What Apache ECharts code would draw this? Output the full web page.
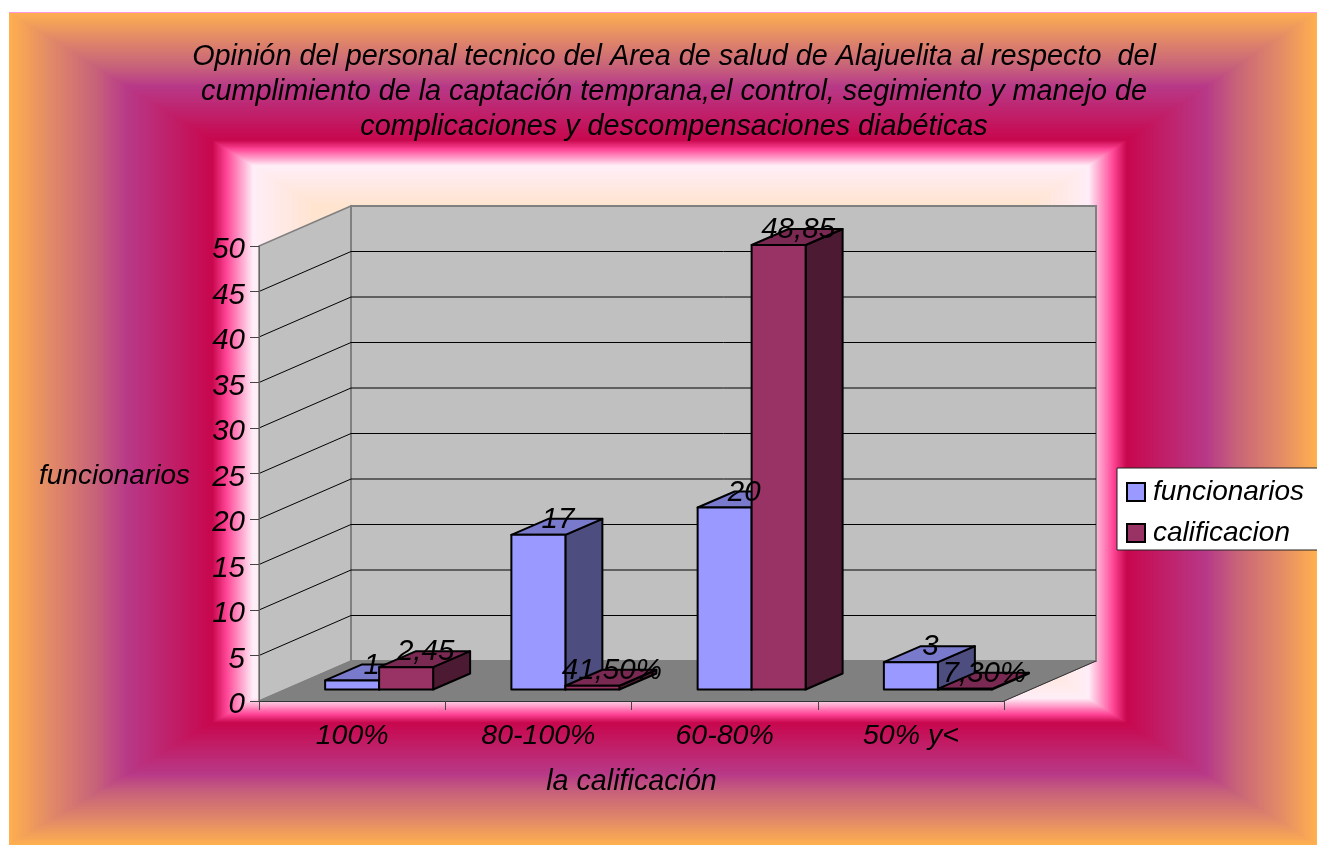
<!DOCTYPE html>
<html><head><meta charset="utf-8">
<style>html,body{margin:0;padding:0;background:#fff;overflow:hidden}#c{width:1317px;height:845px}</style>
<script src="https://cdn.jsdelivr.net/npm/echarts@6/dist/echarts.min.js"></script>
</head><body><div id="c"></div>
<script>
const categories = ['100%', '80-100%', '60-80%', '50% y<'];
const funcionarios = [1, 17, 20, 3];
const calificacion = [2.45, 0.415, 48.85, 0.073];
const funcionariosLabels = ['1', '17', '20', '3'];
const calificacionLabels = ['2,45', '41,50%', '48,85', '7,30%'];
const yTicks = [0, 5, 10, 15, 20, 25, 30, 35, 40, 45, 50];
const titleLines = [
  'Opinión del personal tecnico del Area de salud de Alajuelita al respecto  del',
  'cumplimiento de la captación temprana,el control, segimiento y manejo de',
  'complicaciones y descompensaciones diabéticas'
];
const FONT = '"Liberation Sans", Arial, sans-serif';
const DEPTH = [92, -40];      // projection of the full floor depth
const BAR_SHIFT = [27, -11.5];  // gap in front of bars
const BAR_DEPTH = [37, -16];  // depth of a bar
const BAR_FRAC = 54 / 186.25;

/* rectangular path gradient of the chart area */
function lerp(a, b, t) { return a + (b - a) * t; }
const stops = [[0, [255,176,80]], [0.2,[226,138,104]], [0.42,[200,100,122]], [0.58, [184,58,136]], [1, [200,8,78]], [1.07, [255,70,150]], [1.2, [255,238,248]], [1.5, [255,228,208]], [3, [255,228,208]]];
function colorAt(t) {
  for (let i = 1; i < stops.length; i++) {
    if (t <= stops[i][0]) {
      const a = stops[i-1], b = stops[i], k = (t - a[0]) / (b[0] - a[0]);
      return 'rgb(' + a[1].map((v, j) => Math.round(lerp(v, b[1][j], k))).join(',') + ')';
    }
  }
  return 'rgb(255,228,208)';
}
function backgroundRects() {
  const out = [];
  const F = { l: 9, r: 1317, t: 12, b: 845 };
  const S = { l: 203, r: 190, t: 128, b: 122 };
  for (let t = 0; t < 2.2; t += 0.004) {
    const x0 = F.l + S.l * t, x1 = F.r - S.r * t, y0 = F.t + S.t * t, y1 = F.b - S.b * t;
    if (x1 <= x0 || y1 <= y0) break;
    out.push({ type: 'rect', silent: true, z: -5, shape: { x: x0, y: y0, width: x1 - x0, height: y1 - y0 }, style: { fill: colorAt(t) } });
  }
  out.push({ type: 'line', silent: true, z: -4, shape: { x1: 9, y1: 12.5, x2: 1317, y2: 12.5 }, style: { stroke: '#ff99dd', lineWidth: 1 } });
  return out;
}

function renderWalls(params, api) {
  const p0 = api.coord([0, 0]);
  const size = api.size([1, 0])[0];
  const p1 = [p0[0] - size / 2 + size * categories.length, p0[1]];
  const x0 = p0[0] - size / 2, x1 = p1[0], yb = p0[1];
  const yt = api.coord([0, 50])[1];
  const d = DEPTH;
  const poly = (pts, fill, stroke, lw) => ({ type: 'polygon', shape: { points: pts }, style: { fill, stroke, lineWidth: lw } });
  const children = [
    poly([[x0, yb], [x0 + d[0], yb + d[1]], [x0 + d[0], yt + d[1]], [x0, yt]], '#c0c0c0', '#808080', 1.5),
    poly([[x0 + d[0], yb + d[1]], [x1 + d[0], yb + d[1]], [x1 + d[0], yt + d[1]], [x0 + d[0], yt + d[1]]], '#c0c0c0', '#808080', 2),
    poly([[x0, yb], [x1, yb], [x1 + d[0], yb + d[1]], [x0 + d[0], yb + d[1]]], '#808080', '#808080', 1)
  ];
  yTicks.forEach(v => {
    if (v === 0 || v === 50) return;
    const y = api.coord([0, v])[1];
    children.push({ type: 'polyline', shape: { points: [[x0, y], [x0 + d[0], y + d[1]], [x1 + d[0], y + d[1]]] }, style: { fill: null, stroke: '#000', lineWidth: 1 } });
  });
  children.push({ type: 'line', shape: { x1: x1, y1: yb, x2: x1 + d[0], y2: yb + d[1] }, style: { stroke: '#333', lineWidth: 1 } });
  return { type: 'group', children };
}

function bar3d(colors, labels, seriesIndex) {
  return function (params, api) {
    const i = api.value(0), v = api.value(1);
    const band = api.size([1, 0])[0];
    const w = band * BAR_FRAC;
    const base = api.coord([i, 0]), top = api.coord([i, v]);
    const x0 = base[0] + BAR_SHIFT[0] - (seriesIndex === 0 ? w : 0);
    const x1 = x0 + w;
    const yb = base[1] + BAR_SHIFT[1], yt = top[1] + BAR_SHIFT[1];
    const dx = BAR_DEPTH[0], dy = BAR_DEPTH[1];
    const style = fill => ({ fill, stroke: '#000', lineWidth: 2, lineJoin: 'round' });
    const z2 = seriesIndex + 1;
    return { type: 'group', children: [
      { type: 'polygon', z2, shape: { points: [[x1, yb], [x1 + dx, yb + dy], [x1 + dx, yt + dy], [x1, yt]] }, style: style(colors[2]) },
      { type: 'polygon', z2, shape: { points: [[x0, yt], [x1, yt], [x1 + dx, yt + dy], [x0 + dx, yt + dy]] }, style: style(colors[1]) },
      { type: 'rect', z2, shape: { x: x0, y: yt, width: w, height: yb - yt }, style: style(colors[0]) },
      { type: 'text', z2: 20, x: (x0 + x1) / 2 + 19.5, y: yt - 15, style: { text: labels[i], fill: '#000', font: 'italic 29.5px ' + FONT, align: 'center', verticalAlign: 'middle' } }
    ] };
  };
}

const chart = echarts.init(document.getElementById('c'), null, { renderer: 'canvas' });
chart.setOption({
  animation: false,
  graphic: { elements: [{ type: 'group', silent: true, z: -5, children: backgroundRects() }] },
  title: {
    text: titleLines.join('\n'), left: 669, top: 34, textAlign: 'center',
    textStyle: { fontFamily: FONT, fontStyle: 'italic', fontWeight: 'normal', fontSize: 28.8, lineHeight: 35, color: '#000' }
  },
  legend: {
    orient: 'vertical', left: 1117, top: 468, data: ['funcionarios', 'calificacion'], icon: 'rect',
    backgroundColor: '#fff', borderColor: '#222', borderWidth: 1, padding: [10, 20, 3, 9],
    itemWidth: 18, itemHeight: 18, itemGap: 13, selectedMode: false,
    textStyle: { fontFamily: FONT, fontStyle: 'italic', fontSize: 28, color: '#000', padding: [0,0,0,3] }
  },
  grid: { left: 259, top: 246, width: 745, height: 455 },
  xAxis: {
    type: 'category', data: categories, z: 5,
    axisLine: { lineStyle: { color: '#333', width: 1 } },
    axisTick: { show: true, length: 9, lineStyle: { color: '#444' }, alignWithLabel: false },
    axisLabel: { interval: 0, margin: 21, fontFamily: FONT, fontStyle: 'italic', fontSize: 28.5, color: '#000' },
    name: 'la calificación', nameLocation: 'middle', nameGap: 67,
    nameTextStyle: { fontFamily: FONT, fontStyle: 'italic', fontSize: 28.7, color: '#000' }
  },
  yAxis: {
    type: 'value', min: 0, max: 50, interval: 5, z: 5,
    axisLine: { show: true, lineStyle: { color: '#666', width: 1 } },
    axisTick: { show: true, length: 9, lineStyle: { color: '#444' } },
    splitLine: { show: false },
    axisLabel: { margin: 14, fontFamily: FONT, fontStyle: 'italic', fontSize: 29.5, color: '#000', verticalAlign: 'top', lineHeight: 8 },
    name: 'funcionarios', nameLocation: 'middle', nameRotate: 0, nameGap: 69,
    nameTextStyle: { fontFamily: FONT, fontStyle: 'italic', fontSize: 28, color: '#000', verticalAlign: 'top', lineHeight: 5 }
  },
  series: [
    { type: 'custom', name: 'walls', z: 1, silent: true, renderItem: renderWalls, data: [[0, 0]], encode: { x: 0, y: 1 } },
    { type: 'custom', name: 'funcionarios', z: 2, itemStyle: { color: '#9999ff', borderColor: '#000', borderWidth: 1.5 },
      renderItem: bar3d(['#9999ff', '#7a7acc', '#4d4d80'], funcionariosLabels, 0),
      data: funcionarios.map((v, i) => [i, v]), encode: { x: 0, y: 1 } },
    { type: 'custom', name: 'calificacion', z: 2, itemStyle: { color: '#993366', borderColor: '#000', borderWidth: 1.5 },
      renderItem: bar3d(['#993366', '#7a2952', '#4d1a33'], calificacionLabels, 1),
      data: calificacion.map((v, i) => [i, v]), encode: { x: 0, y: 1 } }
  ]
});
</script></body></html>
